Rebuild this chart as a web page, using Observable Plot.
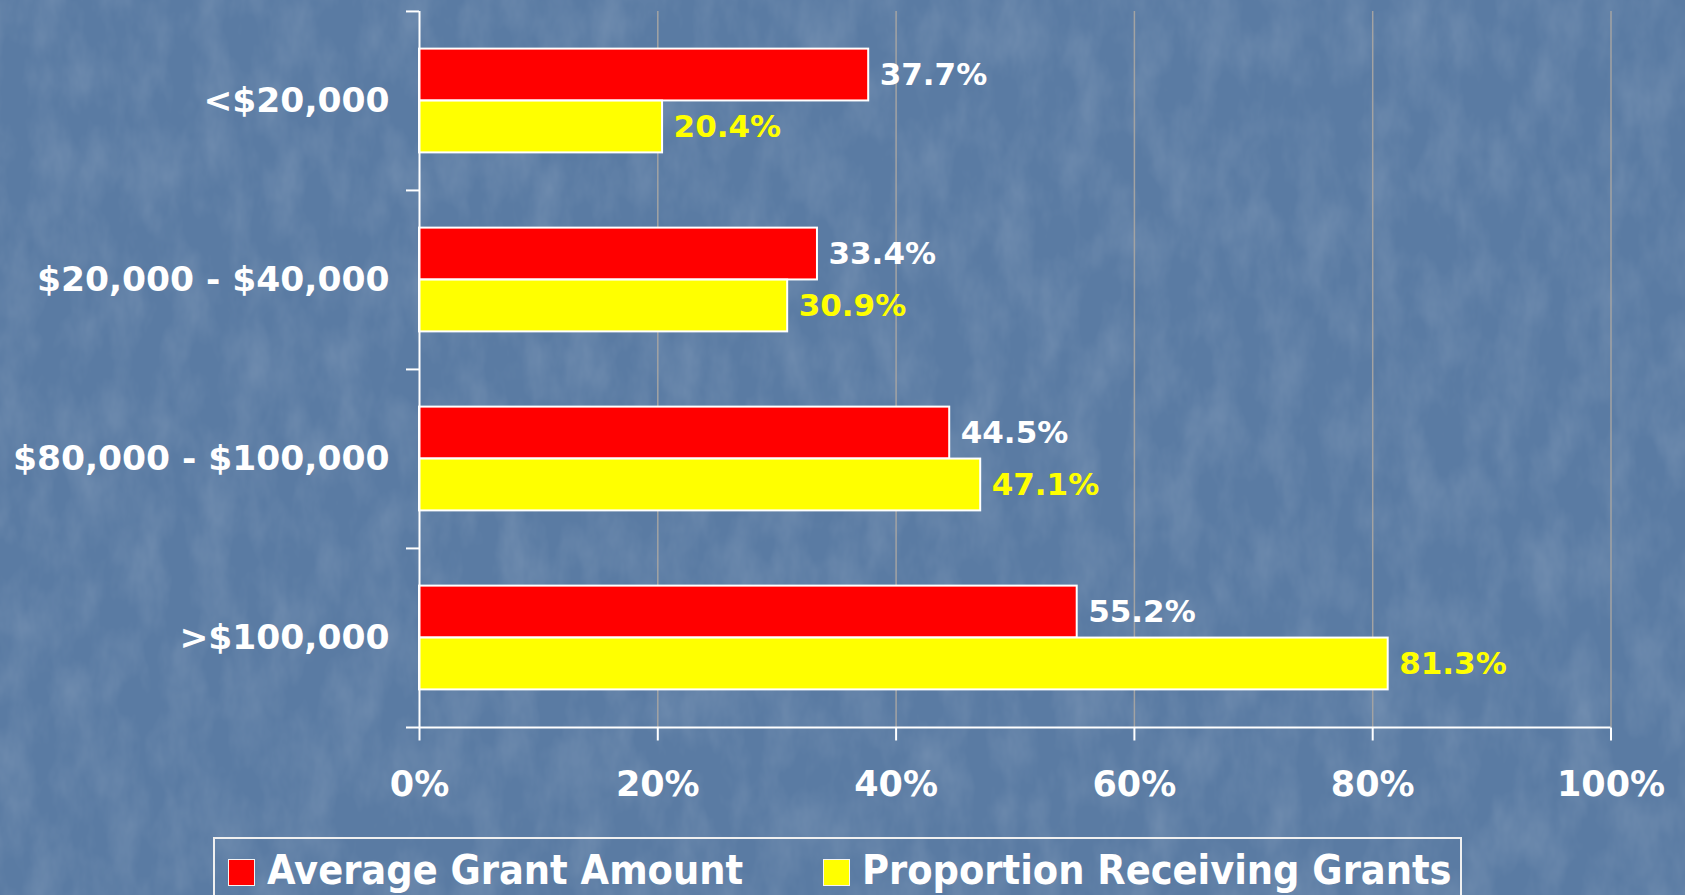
<!DOCTYPE html>
<html>
<head>
<meta charset="utf-8">
<script src="https://cdn.jsdelivr.net/npm/d3@7"></script>
<script src="https://cdn.jsdelivr.net/npm/@observablehq/plot@0.6"></script>
<style>
  html, body { margin: 0; padding: 0; width: 1685px; height: 895px; overflow: hidden; }
  body {
    background-color: #5a7ba3;
    background-image: url("data:image/svg+xml;utf8,<svg xmlns='http://www.w3.org/2000/svg' width='1685' height='895'><filter id='n'><feTurbulence type='fractalNoise' baseFrequency='0.03 0.015' numOctaves='4' seed='11'/><feColorMatrix values='0 0 0 0 1  0 0 0 0 1  0 0 0 0 1  0 0 0 0.22 -0.08'/></filter><rect width='1685' height='895' filter='url(%23n)'/></svg>");
    background-repeat: no-repeat;
    font-family: "DejaVu Sans", sans-serif;
    position: relative;
  }
  #chart svg { display: block; color: white; background: transparent; }
  #legend {
    position: absolute; left: 213px; top: 837px; width: 1249px; height: 80px;
    border: 2px solid #f0f0f0; box-sizing: border-box;
    font-family: "DejaVu Sans Condensed", "DejaVu Sans", sans-serif; font-stretch: condensed;
    font-weight: bold; font-size: 41px; color: white;
  }
  .item { position: absolute; top: 7px; display: flex; align-items: center; white-space: nowrap; }
  .sw { width: 25px; height: 25px; border: 1px solid #f4f4f4; margin-right: 12px; margin-top: 4px; }
</style>
</head>
<body>
<div id="chart"></div>
<div id="legend"></div>
<script>
const categories = ["<$20,000", "$20,000 - $40,000", "$80,000 - $100,000", ">$100,000"];
const seriesNames = ["Average Grant Amount", "Proportion Receiving Grants"];
const averageGrantAmount = [37.7, 33.4, 44.5, 55.2];
const proportionReceivingGrants = [20.4, 30.9, 47.1, 81.3];
const xTicks = [0, 20, 40, 60, 80, 100];
const gridTicks = [20, 40, 60, 80, 100];
const seriesColors = ["#ff0000", "#ffff00"];
const labelColors = ["#ffffff", "#ffff00"];

const W = 1685, H = 835;
const mTop = 11, mBottom = 107.5, mLeft = 419, mRight = 74.5;
const band = (H - mTop - mBottom) / categories.length;
const barH = band * 0.29;
const outer = (band - 2 * barH) / 2;

const rows = [];
categories.forEach((c, i) => {
  rows.push({cat: c, series: seriesNames[0], value: averageGrantAmount[i], k: 0});
  rows.push({cat: c, series: seriesNames[1], value: proportionReceivingGrants[i], k: 1});
});
const r0 = rows.filter(d => d.k === 0), r1 = rows.filter(d => d.k === 1);
const font = "DejaVu Sans, sans-serif";

const plot = Plot.plot({
  width: W, height: H,
  marginTop: mTop, marginBottom: mBottom, marginLeft: mLeft, marginRight: mRight,
  x: {domain: [0, 100], axis: null, label: null},
  y: {domain: categories, padding: 0, axis: null, label: null},
  style: {fontFamily: font, background: "transparent", color: "white"},
  marks: [
    Plot.ruleX(gridTicks, {stroke: "#a3a3a3", strokeWidth: 1.5}),
    Plot.barX(r0, {x: "value", y: "cat", fill: seriesColors[0], stroke: "white", strokeWidth: 2,
      insetTop: outer, insetBottom: band - outer - barH}),
    Plot.barX(r1, {x: "value", y: "cat", fill: seriesColors[1], stroke: "white", strokeWidth: 2,
      insetTop: outer + barH, insetBottom: outer}),
    Plot.ruleX([0], {stroke: "white", strokeWidth: 2}),
    Plot.ruleY(categories, {y: d => d, dy: -band / 2, x1: 0, x2: 0, insetLeft: -13, stroke: "white", strokeWidth: 2}),
    Plot.ruleY([categories[categories.length - 1]], {y: d => d, dy: band / 2, x1: 0, x2: 100, insetLeft: -13, stroke: "white", strokeWidth: 2}),
    Plot.text(r0, {x: "value", y: "cat", text: d => d.value.toFixed(1) + "%", dx: 11, dy: -barH / 2,
      textAnchor: "start", fill: labelColors[0], fontSize: 31, fontWeight: "bold"}),
    Plot.text(r1, {x: "value", y: "cat", text: d => d.value.toFixed(1) + "%", dx: 11, dy: barH / 2,
      textAnchor: "start", fill: labelColors[1], fontSize: 31, fontWeight: "bold"}),
    Plot.axisX({ticks: xTicks, tickFormat: d => d + "%", tickSize: 13, tickPadding: 30, label: null,
      stroke: "white", strokeWidth: 2, fill: "white", fontSize: 35, fontWeight: "bold"}),
    Plot.axisY({tickSize: 0, tickPadding: 30, label: null, fill: "white", fontSize: 34.5, fontWeight: "bold"})
  ]
});
document.getElementById("chart").appendChild(plot);

const legend = document.getElementById("legend");
const lefts = [13, 608];
seriesNames.forEach((s, i) => {
  const it = document.createElement("div");
  it.className = "item";
  it.style.left = lefts[i] + "px";
  const sw = document.createElement("div");
  sw.className = "sw";
  sw.style.background = seriesColors[i];
  const tx = document.createElement("span");
  tx.textContent = s;
  it.appendChild(sw); it.appendChild(tx);
  legend.appendChild(it);
});
</script>
</body>
</html>
